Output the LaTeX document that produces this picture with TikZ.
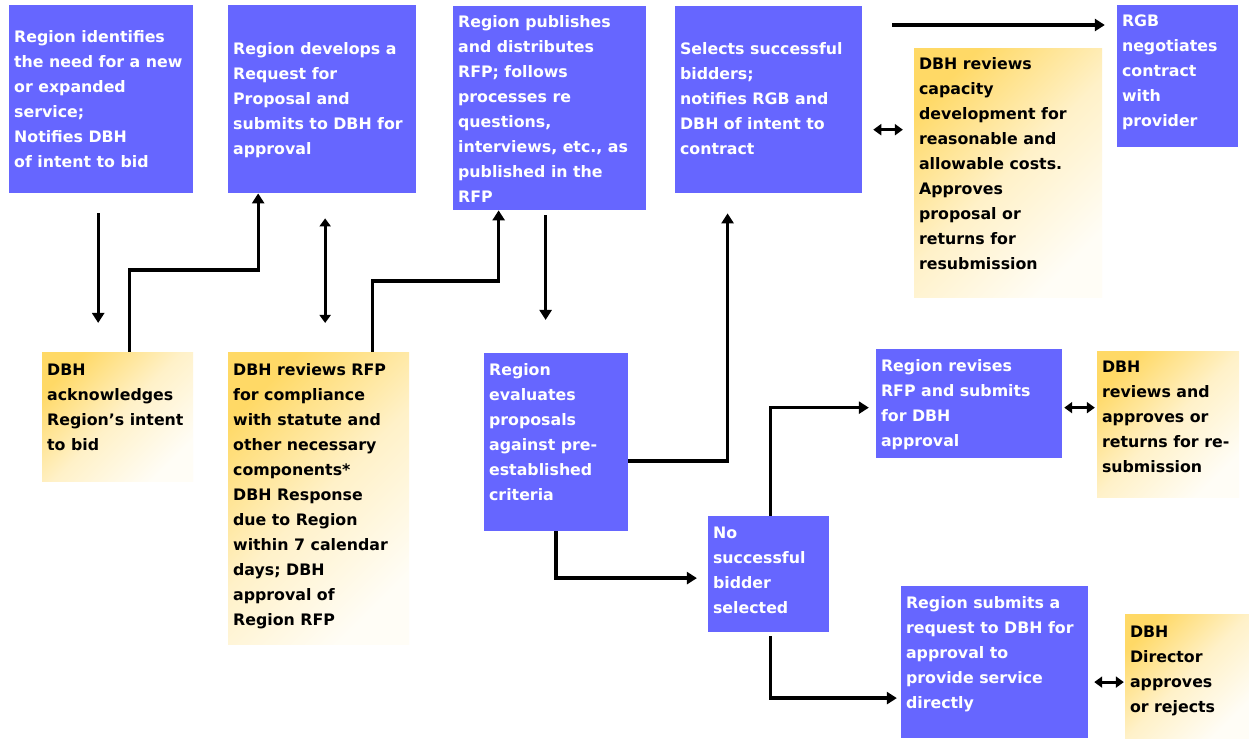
\documentclass[tikz,border=0pt]{standalone}
\usepackage{fontspec}
\setmainfont{DejaVu Sans}
\usetikzlibrary{arrows.meta,calc}
\definecolor{boxblue}{HTML}{6666FF}
\definecolor{yelA}{HTML}{FFD966}
\definecolor{yelB}{HTML}{FFF1C8}
\definecolor{yelC}{HTML}{FFFDF6}
\newcommand{\cell}[4]{\parbox[c][#2pt][t]{#1pt}{\vspace*{#3pt}\begin{tabular}{@{}l@{}}#4\end{tabular}}}
\tikzset{
  bluebox/.style={fill=boxblue, text=white, anchor=north west, inner xsep=5pt, inner ysep=0pt,
    font=\fontsize{15.8}{25}\selectfont\bfseries},
  yelbox/.style={top color=yelA, bottom color=yelC, middle color=yelB, shading angle=45,
    text=black, anchor=north west, inner xsep=5pt, inner ysep=0pt,
    font=\fontsize{15.8}{25}\selectfont\bfseries},
  arr/.style={line width=3.3pt, -{Triangle[length=10pt,width=12pt]}},
  dbl/.style={line width=3pt, {Triangle[length=8pt,width=11pt]}-{Triangle[length=8pt,width=11pt]}}
}
\begin{document}
\begin{tikzpicture}[x=1pt,y=-1pt]
  \fill[white] (0,0) rectangle (1249,740);
  \node[bluebox] (b1) at (9,5) {\cell{174}{188}{20}{Region identifies\\the need for a new\\or expanded\\service;\\Notifies DBH\\of intent to bid}};
  \node[bluebox] (b2) at (228,5) {\cell{178}{188}{32}{Region develops a\\Request for\\Proposal and\\submits to DBH for\\approval}};
  \node[bluebox] (b3) at (453,6) {\cell{183}{204}{4}{Region publishes\\and distributes\\RFP; follows\\processes re\\questions,\\interviews, etc., as\\published in the\\RFP}};
  \node[bluebox] (b4) at (675,6) {\cell{177}{187}{31}{Selects successful\\bidders;\\notifies RGB and\\DBH of intent to\\contract}};
  \node[bluebox] (b5) at (1117,5) {\cell{111}{142}{4}{RGB\\negotiates\\contract\\with\\provider}};
  \node[bluebox] (b6) at (484,353) {\cell{134}{178}{5}{Region\\evaluates\\proposals\\against pre-\\established\\criteria}};
  \node[bluebox] (b7) at (876,349) {\cell{176}{109}{5}{Region revises\\RFP and submits\\for DBH\\approval}};
  \node[bluebox] (b8) at (708,516) {\cell{111}{116}{5}{No\\successful\\bidder\\selected}};
  \node[bluebox] (b9) at (901,586) {\cell{177}{152}{5}{Region submits a\\request to DBH for\\approval to\\provide service\\directly}};
  \node[yelbox] (y1) at (42,352) {\cell{141}{129}{6}{DBH\\acknowledges\\Region’s intent\\to bid}};
  \node[yelbox] (y2) at (228,352) {\cell{171}{292}{6}{DBH reviews RFP\\for compliance\\with statute and\\other necessary\\components*\\DBH Response\\due to Region\\within 7 calendar\\days; DBH\\approval of\\Region RFP}};
  \node[yelbox] (y3) at (914,48) {\cell{178}{249}{4}{DBH reviews\\capacity\\development for\\reasonable and\\allowable costs.\\Approves\\proposal or\\returns for\\resubmission}};
  \node[yelbox] (y4) at (1097,351) {\cell{132}{146}{4}{DBH\\reviews and\\approves or\\returns for re-\\submission}};
  \node[yelbox] (y5) at (1125,614) {\cell{114}{124}{6}{DBH\\Director\\approves\\or rejects}};
  \draw[arr, shorten <=20pt, shorten >=29pt] ([xshift=-3pt]b1.south) -- ([xshift=-3pt]b1.south |- y1.north);
  \draw[arr] ([xshift=12pt]y1.north) -- ++(0,-82) -| ([xshift=-64pt]b2.south);
  \draw[dbl, shorten <=25pt, shorten >=29pt] ([xshift=3pt]b2.south) -- ([xshift=3pt]b2.south |- y2.north);
  \draw[arr] ([xshift=54pt]y2.north) -- ++(0,-71) -| ([xshift=-51pt]b3.south);
  \draw[arr, shorten <=5pt, shorten >=33pt] ([xshift=-4pt]b3.south) -- ([xshift=-4pt]b3.south |- b6.north);
  \draw[arr, shorten >=20pt] ([yshift=-19pt]b6.east) -| ([xshift=-41pt]b4.south);
  \draw[arr, shorten <=30pt, shorten >=12pt] ([yshift=-19pt]b4.north east) -- ([yshift=-19pt]b4.north east -| b5.west);
  \draw[dbl, shorten <=11pt, shorten >=11pt] ([yshift=-30pt]b4.east) -- ([yshift=-30pt]b4.east -| y3.west);
  \draw[arr, shorten >=11pt] (b6.south) |- ([yshift=-4pt]b8.west);
  \draw[arr, shorten >=7pt] ([xshift=2pt]b8.north) |- ([yshift=-4pt]b7.west);
  \draw[dbl, shorten <=2pt, shorten >=2pt] ([yshift=-4pt]b7.east) -- ([yshift=-4pt]b7.east -| y4.west);
  \draw[arr, shorten <=4pt, shorten >=4pt] ([xshift=2pt]b8.south) |- ([yshift=-36pt]b9.west);
  \draw[dbl, shorten <=6pt, shorten >=1pt] ([yshift=-20pt]b9.east) -- ([yshift=-20pt]b9.east -| y5.west);
\end{tikzpicture}
\end{document}
